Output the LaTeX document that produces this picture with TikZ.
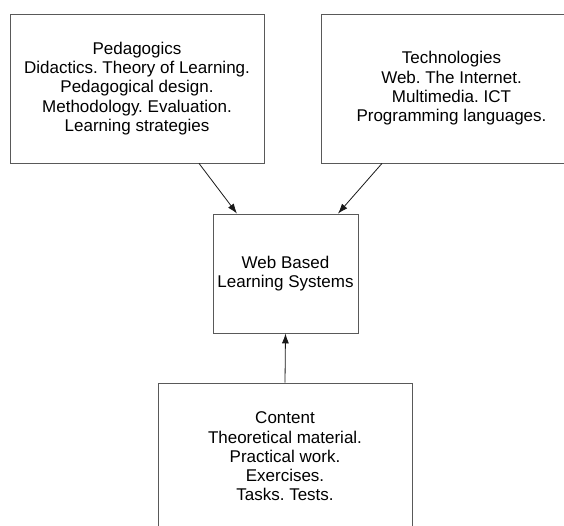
\documentclass[tikz,border=0pt]{standalone}
\usepackage{fontspec}
\setmainfont{Liberation Sans}
\usepackage{tikz}
\usetikzlibrary{arrows.meta}
\frenchspacing

\begin{document}
\begin{tikzpicture}
	[x=1pt,y=-1pt, line width=0.8pt,
	box/.style={draw=black!65, align=center, inner sep=0pt, font=\fontsize{17}{19.3}\selectfont},
	link/.style={-{Latex[length=10pt,width=7pt]}, black!90}]
	\useasboundingbox (0,0) rectangle (564,526);
	\begin{scope}
	\clip (0,0) rectangle (564,526);
	\node[box, minimum width=254pt, minimum height=149pt] (ped) at (137,88.5)
		{Pedagogics\\Didactics. Theory of Learning.\\Pedagogical design.\\Methodology. Evaluation.\\Learning strategies};
	\node[box, minimum width=261pt, minimum height=149pt] (tech) at (451.5,88.5)
		{Technologies\\Web. The Internet.\\Multimedia. ICT\\Programming languages.};
	\node[box, minimum width=145pt, minimum height=119pt] (wbls) at (285.5,273.5)
		{Web Based\\Learning Systems};
	\node[box, minimum width=254pt, minimum height=147pt] (cont) at (285,456.5)
		{Content\\Theoretical material.\\Practical work.\\Exercises.\\Tasks. Tests.};
	\end{scope}
	\draw[link] ([xshift=62pt]ped.south) -- ([xshift=-48.5pt]wbls.north);
	\draw[link] ([xshift=-69.5pt]tech.south) -- ([xshift=52.5pt]wbls.north);
	\draw[link] (cont.north) -- (wbls.south);
\end{tikzpicture}
\end{document}
